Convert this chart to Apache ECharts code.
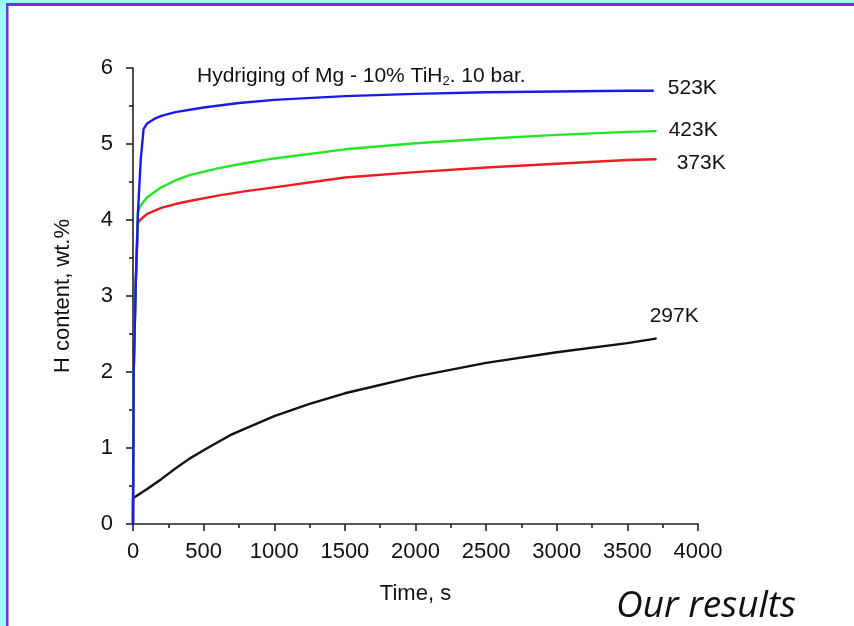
<!DOCTYPE html>
<html>
<head>
<meta charset="utf-8">
<script src="https://cdn.jsdelivr.net/npm/echarts@6/dist/echarts.min.js"></script>
<style>html,body{margin:0;padding:0;background:#fff;}#c{width:854px;height:626px;}</style>
</head>
<body>
<div id="c"></div>
<script>
// Data
const t523 = [0, 5, 20, 35, 55, 75, 100, 150, 200, 300, 500, 750, 1000, 1500, 2000, 2500, 3000, 3500, 3680];
const h523 = [0, 2.0, 3.2, 4.1, 4.8, 5.2, 5.27, 5.33, 5.37, 5.42, 5.48, 5.54, 5.58, 5.63, 5.66, 5.68, 5.69, 5.70, 5.70];

const t423 = [0, 5, 20, 35, 50, 100, 200, 300, 400, 600, 800, 1000, 1500, 2000, 2500, 3000, 3500, 3700];
const h423 = [0, 2.0, 3.2, 4.1, 4.18, 4.3, 4.43, 4.52, 4.59, 4.68, 4.75, 4.81, 4.93, 5.01, 5.07, 5.12, 5.16, 5.17];

const t373 = [0, 5, 20, 35, 50, 100, 200, 300, 400, 600, 800, 1000, 1500, 2000, 2500, 3000, 3500, 3700];
const h373 = [0, 2.0, 3.2, 3.96, 4.0, 4.08, 4.16, 4.21, 4.25, 4.32, 4.38, 4.43, 4.56, 4.63, 4.69, 4.74, 4.79, 4.80];

const t297 = [0, 0, 100, 200, 300, 400, 500, 700, 1000, 1250, 1500, 2000, 2500, 3000, 3500, 3700];
const h297 = [0, 0.34, 0.46, 0.59, 0.73, 0.86, 0.97, 1.18, 1.42, 1.58, 1.72, 1.94, 2.12, 2.26, 2.38, 2.44];

const seriesNames = ['523K', '423K', '373K', '297K'];
const titleText = 'Hydriging of Mg - 10% TiH{s|2}. 10 bar.';
const xName = 'Time, s';
const yName = 'H content, wt.%';
const noteText = 'Our results';

const pairs = (t, h) => t.map((v, i) => [v, h[i]]);
const FONT = '"Liberation Sans", Arial, sans-serif';

const chart = echarts.init(document.getElementById('c'), null, {renderer: 'canvas'});

function mkSeries(name, t, h, color, offset) {
  return {
    name, type: 'line', data: pairs(t, h), showSymbol: false, symbol: 'none',
    smooth: false,
    lineStyle: {color, width: 2.4, join: 'round', cap: 'round'},
    itemStyle: {color},
    endLabel: {show: true, formatter: name, color: '#111', fontSize: 21, fontFamily: FONT,
      distance: 0, offset: offset},
    animation: false
  };
}

chart.setOption({
  backgroundColor: '#ffffff',
  animation: false,
  title: {
    text: titleText, left: 192, top: 59,
    textStyle: {fontSize: 21, fontWeight: 'normal', color: '#111', fontFamily: FONT,
      rich: {s: {fontSize: 13, color: '#111', fontFamily: FONT, verticalAlign: 'bottom', padding: [11, 0, 0, 0]}}}
  },
  grid: {left: 133, right: 156, top: 68, bottom: 102, containLabel: false},
  xAxis: {
    type: 'value', min: 0, max: 4000, interval: 500,
    name: xName, nameLocation: 'middle', nameGap: 59,
    nameTextStyle: {fontSize: 22, color: '#111', fontFamily: FONT},
    axisLine: {show: true, onZero: false, lineStyle: {color: '#222', width: 1.6}},
    axisTick: {show: true, length: 7, lineStyle: {color: '#222', width: 1.6}},
    minorTick: {show: true, splitNumber: 2, length: 4, lineStyle: {color: '#222', width: 1.6}},
    axisLabel: {fontSize: 22, color: '#111', fontFamily: FONT, margin: 17, formatter: v => String(v)},
    splitLine: {show: false}
  },
  yAxis: {
    type: 'value', min: 0, max: 6, interval: 1, offset: 6,
    name: yName, nameLocation: 'middle', nameGap: 53, nameRotate: 90,
    nameTextStyle: {fontSize: 22, color: '#111', fontFamily: FONT},
    axisLine: {show: true, lineStyle: {color: '#222', width: 1.6}},
    axisTick: {show: true, length: 7, lineStyle: {color: '#222', width: 1.6}},
    minorTick: {show: true, splitNumber: 2, length: 4, lineStyle: {color: '#222', width: 1.6}},
    axisLabel: {fontSize: 22, color: '#111', fontFamily: FONT, margin: 14, formatter: v => String(v)},
    splitLine: {show: false}
  },
  series: [
    mkSeries(seriesNames[3], t297, h297, '#111111', [-6, -22]),
    mkSeries(seriesNames[2], t373, h373, '#ee1c1c', [21, 4]),
    mkSeries(seriesNames[1], t423, h423, '#22e622', [13, -1]),
    mkSeries(seriesNames[0], t523, h523, '#1a1aee', [15, -3])
  ],
  graphic: [
    {type: 'rect', left: 0, top: 0, shape: {width: 6, height: 626}, style: {fill: '#99fbfb'}, silent: true},
    {type: 'rect', left: 0, top: 0, shape: {width: 854, height: 3}, style: {fill: '#99fbfb'}, silent: true},
    {type: 'rect', left: 6, top: 3, shape: {width: 2.5, height: 623}, style: {fill: '#7a2cf0'}, silent: true},
    {type: 'rect', left: 6, top: 3, shape: {width: 848, height: 3}, style: {fill: '#7a2cf0'}, silent: true},
    {type: 'text', left: 616, top: 588,
      style: {text: noteText, fontSize: 37, fontStyle: 'italic', fontFamily: '"Open Sans", "Noto Sans", sans-serif', fill: '#111'}}
  ]
});
</script>
</body>
</html>
